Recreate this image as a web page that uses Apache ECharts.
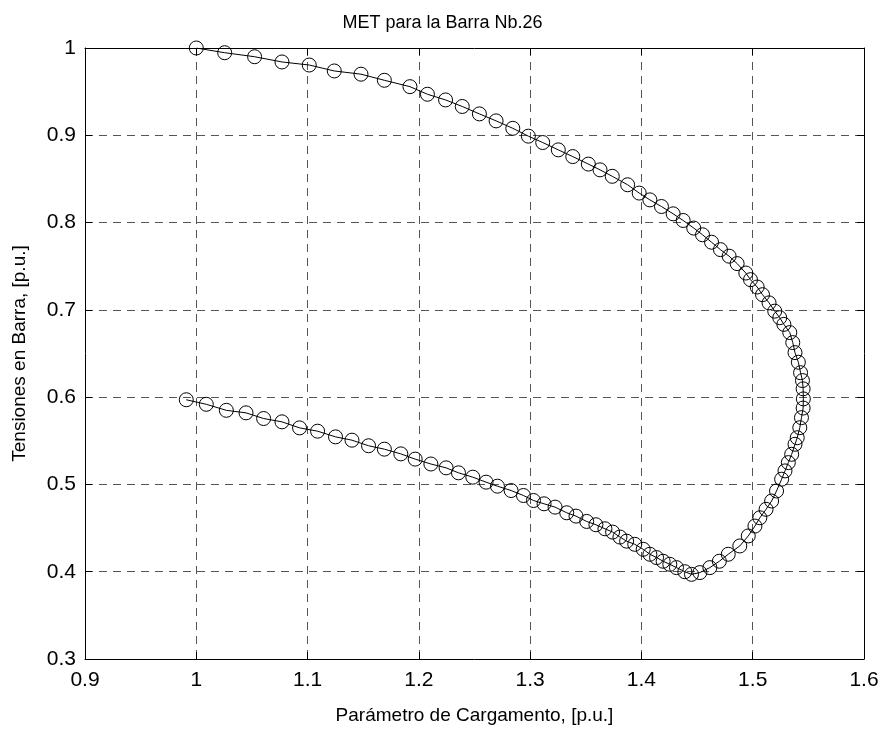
<!DOCTYPE html>
<html>
<head>
<meta charset="utf-8">
<script src="https://cdn.jsdelivr.net/npm/echarts@6/dist/echarts.min.js"></script>
<style>
html,body{margin:0;padding:0;background:#fff;}
#chart{width:885px;height:730px;}
</style>
</head>
<body>
<div id="chart"></div>
<script>
// Parámetro de Cargamento (x) and Tensiones en Barra (y), in curve order
var xValues = [1.000,1.0255,1.0524,1.077,1.1015,1.124,1.148,1.169,1.192,1.2077,1.224,1.239,1.2544,1.2694,1.2844,1.2984,1.3113,1.3253,1.3383,1.3523,1.3628,1.3738,1.3876,1.398,1.4076,1.418,1.4285,1.4375,1.447,1.4549,1.463,1.471,1.4788,1.486,1.4938,1.498,1.504,1.5088,1.5147,1.5198,1.5243,1.528,1.5333,1.536,1.538,1.541,1.543,1.5447,1.5453,1.5455,1.5453,1.5438,1.5423,1.540,1.538,1.535,1.532,1.529,1.526,1.5214,1.517,1.512,1.5064,1.502,1.496,1.4884,1.478,1.470,1.4615,1.4525,1.445,1.439,1.4315,1.4255,1.4195,1.4136,1.4076,1.4016,1.394,1.3867,1.3807,1.3741,1.3672,1.3591,1.3508,1.3412,1.3329,1.3224,1.3125,1.303,1.294,1.2829,1.2706,1.2604,1.2485,1.2356,1.2245,1.2108,1.1967,1.1838,1.169,1.1548,1.1399,1.1251,1.109,1.0928,1.077,1.0605,1.0447,1.027,1.009,0.991];
var yValues = [1.000,0.9946,0.990,0.984,0.9805,0.9737,0.970,0.963,0.9557,0.947,0.9405,0.933,0.9245,0.9165,0.908,0.899,0.8917,0.8833,0.8756,0.867,0.8604,0.853,0.8433,0.8338,0.826,0.8184,0.810,0.8024,0.7937,0.786,0.7775,0.769,0.7615,0.753,0.7422,0.7346,0.7262,0.7174,0.708,0.6985,0.691,0.6834,0.674,0.6625,0.651,0.640,0.628,0.619,0.6095,0.598,0.5875,0.5765,0.565,0.5535,0.546,0.5345,0.525,0.5155,0.506,0.4925,0.481,0.4715,0.4618,0.4523,0.441,0.4295,0.420,0.412,0.4047,0.399,0.397,0.400,0.4047,0.4085,0.412,0.4162,0.420,0.4257,0.4314,0.435,0.4397,0.4454,0.4492,0.4538,0.4576,0.4637,0.4675,0.474,0.4778,0.4816,0.4873,0.493,0.498,0.5026,0.5083,0.5133,0.519,0.5234,0.529,0.535,0.5404,0.5443,0.5507,0.5545,0.561,0.5648,0.5717,0.5755,0.582,0.5849,0.5918,0.597];
var xTicks = ['0.9','1','1.1','1.2','1.3','1.4','1.5','1.6'];
var yTicks = ['0.3','0.4','0.5','0.6','0.7','0.8','0.9','1'];

var points = xValues.map(function(x, i){ return [x, yValues[i]]; });

var font = 'Liberation Sans, Arial, sans-serif';
var chart = echarts.init(document.getElementById('chart'), null, {renderer:'canvas'});
var gridLine = {show:true, lineStyle:{color:'#555', width:1, type:[8,6]}};
var fmt = function(v){ return String(Math.round(v*10)/10); };
chart.setOption({
  animation:false,
  backgroundColor:'#fff',
  title:{text:'MET para la Barra Nb.26', left:'center', top:9,
    textStyle:{fontFamily:font, fontSize:18, fontWeight:'normal', color:'#000'}},
  grid:{left:85, right:21, top:48, bottom:70, containLabel:false},
  xAxis:[{
    type:'value', min:0.9, max:1.6, interval:0.1, position:'bottom',
    name:'Parámetro de Cargamento, [p.u.]', nameLocation:'middle', nameGap:47,
    nameTextStyle:{fontFamily:font, fontSize:19, color:'#000'},
    axisLine:{show:true, onZero:false, lineStyle:{color:'#000', width:1}},
    axisTick:{show:true, inside:true, length:7, lineStyle:{color:'#000'}},
    axisLabel:{fontFamily:font, fontSize:21, color:'#000', margin:11, formatter:fmt},
    splitLine:gridLine
  },{
    type:'value', min:0.9, max:1.6, interval:0.1, position:'top',
    axisLine:{show:true, onZero:false, lineStyle:{color:'#000', width:1}},
    axisTick:{show:true, inside:true, length:7, lineStyle:{color:'#000'}},
    axisLabel:{show:false}, splitLine:{show:false}
  }],
  yAxis:[{
    type:'value', min:0.3, max:1.0, interval:0.1, position:'left',
    name:'Tensiones en Barra, [p.u.]', nameLocation:'middle', nameGap:56, nameRotate:90,
    nameTextStyle:{fontFamily:font, fontSize:19, color:'#000'},
    axisLine:{show:true, onZero:false, lineStyle:{color:'#000', width:1}},
    axisTick:{show:true, inside:true, length:7, lineStyle:{color:'#000'}},
    axisLabel:{fontFamily:font, fontSize:21, color:'#000', margin:9, formatter:fmt},
    splitLine:gridLine
  },{
    type:'value', min:0.3, max:1.0, interval:0.1, position:'right',
    axisLine:{show:true, onZero:false, lineStyle:{color:'#000', width:1}},
    axisTick:{show:true, inside:true, length:7, lineStyle:{color:'#000'}},
    axisLabel:{show:false}, splitLine:{show:false}
  }],
  series:[{
    type:'line', xAxisIndex:0, yAxisIndex:0, data:points,
    lineStyle:{color:'#000', width:1},
    symbol:'circle', symbolSize:14, showAllSymbol:true,
    itemStyle:{color:'rgba(255,255,255,0)', borderColor:'#000', borderWidth:1},
    emphasis:{disabled:true}, z:5
  }]
});
</script>
</body>
</html>
